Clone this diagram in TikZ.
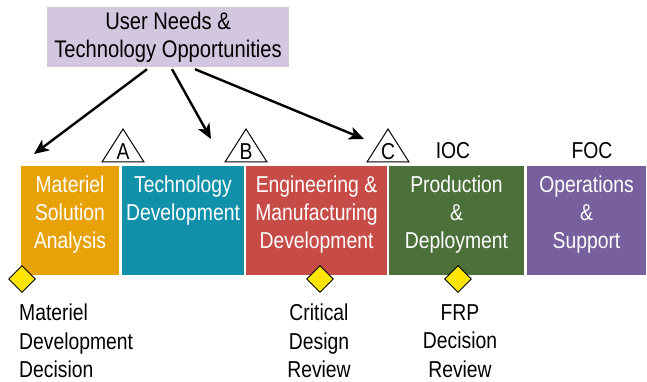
\documentclass[tikz,border=0pt]{standalone}
\usepackage{fontspec}
\setmainfont[FakeStretch=0.84]{Liberation Sans}
\usepackage{tikz}
\usetikzlibrary{arrows.meta,shapes.geometric}
\definecolor{needsbg}{HTML}{D2C7DF}
\definecolor{msaorange}{HTML}{E6A206}
\definecolor{tdteal}{HTML}{1190A9}
\definecolor{emdred}{HTML}{C74C47}
\definecolor{pdgreen}{HTML}{4B703A}
\definecolor{ospurple}{HTML}{77609D}
\definecolor{msyellow}{HTML}{FFE500}

\begin{document}
\begin{tikzpicture}[x=1pt,y=-1pt,>={Stealth[length=15pt,width=13pt,inset=4pt]},
  phasebox/.style={rectangle,inner sep=0pt,minimum height=109pt},
  phasetext/.style={anchor=north,inner sep=0pt,align=center,text=white,font=\fontsize{23}{28}\selectfont},
  gatetext/.style={inner sep=0pt,font=\fontsize{23}{28}\selectfont},
  milestone/.style={diamond,draw=black,line width=0.9pt,fill=msyellow,minimum size=27pt,inner sep=0pt},
  reviewtext/.style={inner sep=0pt,font=\fontsize{23}{28.5}\selectfont}]
  \useasboundingbox (0,0) rectangle (647,382);

  % top box
  \node[fill=needsbg,minimum width=242pt,minimum height=60pt,inner sep=0pt,align=center,
        font=\fontsize{24}{28}\selectfont] (needs) at (168,37) {User Needs \&\\Technology Opportunities};

  % phases
  \node[phasebox,fill=msaorange,minimum width=98pt]  (msa) at (70,220.5)    {};
  \node[phasebox,fill=tdteal,minimum width=122pt]    (td)  at (183,220.5)   {};
  \node[phasebox,fill=emdred,minimum width=141pt]    (emd) at (316.5,220.5) {};
  \node[phasebox,fill=pdgreen,minimum width=135pt]   (pd)  at (456.5,220.5) {};
  \node[phasebox,fill=ospurple,minimum width=119pt]  (os)  at (586.5,220.5) {};

  \node[phasetext] (msatext) at ([yshift=-10pt]msa.north) {Materiel\\Solution\\Analysis};
  \node[phasetext] (tdtext)  at ([yshift=-10pt]td.north)  {Technology\\Development};
  \node[phasetext] (emdtext) at ([yshift=-10pt]emd.north) {Engineering \&\\Manufacturing\\Development};
  \node[phasetext] (pdtext)  at ([yshift=-10pt]pd.north)  {Production\\\&\\Deployment};
  \node[phasetext] (ostext)  at ([yshift=-10pt]os.north)  {Operations\\\&\\Support};

  % milestone gates
  \foreach \x/\g in {123/A,246/B,388/C}{
    \draw[line width=1pt] (\x-21,162) -- (\x,129) -- (\x+21,162) -- cycle;
    \node[gatetext] (gate\g) at (\x,151.5) {\g};
  }
  \node[gatetext] (ioc) at (453,150.5) {IOC};
  \node[gatetext] (foc) at (592,150.5) {FOC};

  % arrows
  \coordinate (toA) at (34,154);
  \coordinate (toB) at (211,139);
  \coordinate (toC) at (364,139);
  \draw[->,line width=2.4pt] ([xshift=-21pt,yshift=-2pt]needs.south) -- (toA);
  \draw[->,line width=2.4pt] ([xshift=4pt,yshift=-2pt]needs.south) -- (toB);
  \draw[->,line width=2.4pt] ([xshift=27pt,yshift=-2pt]needs.south) -- (toC);

  % decision points
  \node[milestone] (mdd) at (22,279)  {};
  \node[milestone] (cdr) at (320,279) {};
  \node[milestone] (frp) at (458,279) {};

  \node[reviewtext,anchor=north west,align=left] (mddtext) at (19,304) {Materiel\\Development\\Decision};
  \node[reviewtext,anchor=north,align=center] (cdrtext) at (319,304) {Critical\\Design\\Review};
  \node[reviewtext,anchor=north,align=center] (frptext) at (460,304) {FRP\\Decision\\Review};
\end{tikzpicture}
\end{document}
